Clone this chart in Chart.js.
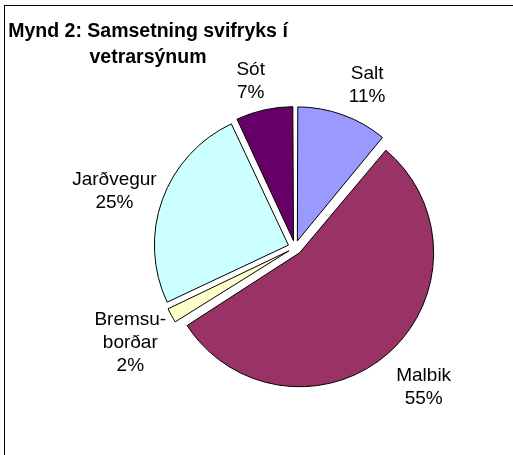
<!DOCTYPE html>
<html>
<head>
<meta charset="utf-8">
<script src="https://cdn.jsdelivr.net/npm/chart.js@4.4.0/dist/chart.umd.min.js"></script>
<style>
  html, body { margin: 0; padding: 0; background: #fff; }
  #wrap { position: relative; width: 513px; height: 455px; overflow: hidden; }
  #frame { position: absolute; left: 4px; top: 5px; width: 600px; height: 600px;
           border-left: 1px solid #000; border-top: 1px solid #000; }
  canvas { position: absolute; left: 0; top: 0; }
</style>
</head>
<body>
<div id="wrap">
  <div id="frame"></div>
  <canvas id="chart" width="513" height="455" style="width:513px;height:455px"></canvas>
</div>
<script>
// data
var categories = [['Salt'], ['Malbik'], ['Bremsu-', 'borðar'], ['Jarðvegur'], ['Sót']];
var shares = [11, 55, 2, 25, 7];
var sliceColors = ['#9999FF', '#993366', '#FFFFCC', '#CCFFFF', '#660066'];
var titleLines = ['Mynd 2: Samsetning svifryks í', 'vetrarsýnum'];

// chart.js moves an arc by offset/4, so 28 -> 7px explode
var EXPLODE = 28;

// keep every slice at the same radius (chart.js grows thin slices by the offset)
var radiusFix = {
  id: 'radiusFix',
  beforeDatasetsDraw: function(chart) {
    var meta = chart.getDatasetMeta(0);
    var R = meta.controller.outerRadius;
    meta.data.forEach(function(arc) {
      var circ = arc.endAngle - arc.startAngle;
      var fix = 1 - Math.sin(Math.min(Math.PI, circ));
      arc.outerRadius = R - EXPLODE / 4 * fix;
    });
  }
};

var sliceLabels = {
  id: 'sliceLabels',
  afterDatasetsDraw: function(chart, args, opts) {
    var ctx = chart.ctx;
    var meta = chart.getDatasetMeta(0);
    var R = meta.controller.outerRadius;
    var total = shares.reduce(function(a, b) { return a + b; }, 0);
    ctx.save();
    ctx.fillStyle = '#000';
    ctx.textAlign = 'center';

    // title
    ctx.font = opts.titleFont;
    ctx.textBaseline = 'alphabetic';
    titleLines.forEach(function(t, k) {
      ctx.fillText(t, opts.titleX, opts.titleY + k * opts.titleLineHeight);
    });

    ctx.font = opts.font;
    ctx.textBaseline = 'middle';
    meta.data.forEach(function(arc, i) {
      var p = arc.getProps(['x', 'y', 'startAngle', 'endAngle']);
      var mid = (p.startAngle + p.endAngle) / 2;
      var dx = Math.cos(mid), dy = Math.sin(mid);
      var dist = R + EXPLODE / 4 + opts.gap;
      var ax = p.x + dx * dist, ay = p.y + dy * dist;
      var lines = categories[i].concat([Math.round(shares[i] / total * 100) + '%']);
      var w = Math.max.apply(null, lines.map(function(l) { return ctx.measureText(l).width; }));
      var h = lines.length * opts.lineHeight;
      var cx = ax + (dx >= 0 ? 1 : -1) * w / 2 + opts.nudge[i][0];
      var cy = ay + (dy >= 0 ? 1 : -1) * h / 2 + opts.nudge[i][1];
      lines.forEach(function(l, k) {
        ctx.fillText(l, cx, cy - h / 2 + opts.lineHeight * (k + 0.5));
      });
    });
    ctx.restore();
  }
};

var chart = new Chart(document.getElementById('chart'), {
  type: 'pie',
  data: {
    labels: categories,
    datasets: [{
      data: shares,
      backgroundColor: sliceColors,
      borderColor: '#000',
      borderWidth: 1,
      borderJoinStyle: 'miter',
      offset: EXPLODE,
      radius: 134
    }]
  },
  options: {
    responsive: false,
    animation: false,
    events: [],
    layout: { padding: { left: 77, top: 40, right: 0, bottom: 0 } },
    plugins: {
      legend: { display: false },
      tooltip: { enabled: false },
      sliceLabels: {
        font: '19px "Liberation Sans", Arial, sans-serif',
        titleFont: 'bold 19.5px "Liberation Sans", Arial, sans-serif',
        titleX: 148,
        titleY: 37,
        titleLineHeight: 26,
        lineHeight: 23,
        gap: 6,
        nudge: [[4, -1], [4, 6], [0, -10], [0, 17], [2, 0]]
      }
    }
  },
  plugins: [radiusFix, sliceLabels]
});
</script>
</body>
</html>
